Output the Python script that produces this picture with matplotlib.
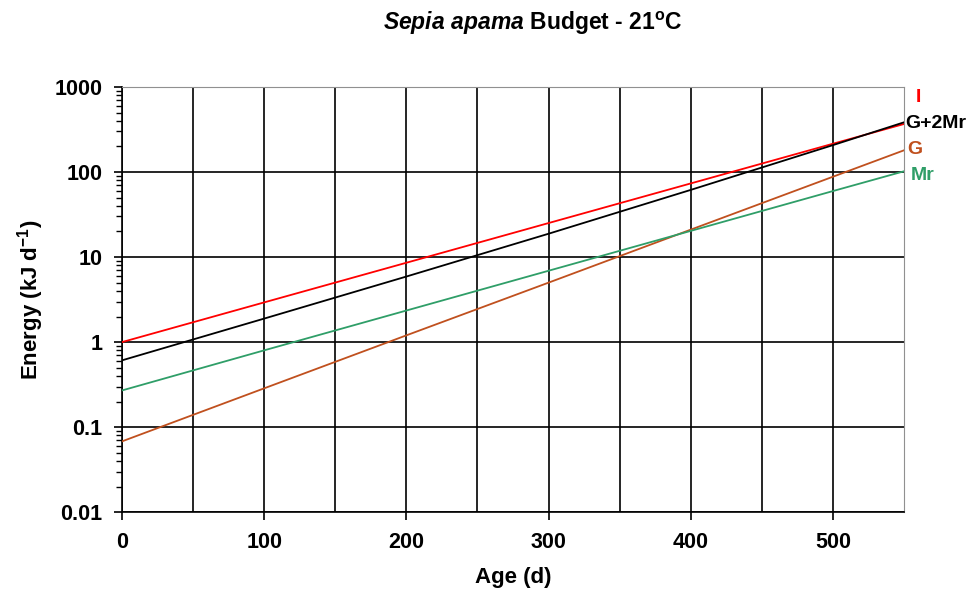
import numpy as np
import matplotlib.pyplot as plt
from matplotlib.ticker import LogLocator, FixedLocator, NullFormatter

plt.rcParams['font.family'] = ['Liberation Sans', 'DejaVu Sans']
plt.rcParams['mathtext.fontset'] = 'custom'
plt.rcParams['mathtext.it'] = 'Liberation Sans:italic:bold'
plt.rcParams['mathtext.rm'] = 'Liberation Sans:bold'
plt.rcParams['mathtext.bf'] = 'Liberation Sans:bold'

# ages (d) and energy values (kJ/d)
age = [0, 100, 200, 300, 400, 500, 550]
I = [1.0, 2.93, 8.57, 25.1, 73.4, 215, 367]
G2Mr = [0.61, 1.89, 5.9, 18.8, 61.6, 207, 384]
G = [0.068, 0.286, 1.2, 5.0, 21.0, 88, 180]
Mr = [0.27, 0.80, 2.35, 6.9, 20.3, 59.7, 102]

series = [('I', I, '#ff0000'), ('G+2Mr', G2Mr, '#000000'),
          ('G', G, '#c0501e'), ('Mr', Mr, '#2f9e68')]
label_pos = [(558, 760), (551, 377), (552, 182), (555, 90)]

fig = plt.figure(figsize=(9.78, 6.04), dpi=100)
ax = fig.add_axes([0.1247, 0.152, 0.7996, 0.704])

for (name, vals, col), (lx, ly) in zip(series, label_pos):
    ax.plot(age, vals, color=col, lw=1.3, zorder=3)
    ax.text(lx, ly, name, color=col, fontsize=14, fontweight='bold',
            va='center', ha='left', clip_on=False)

ax.set_yscale('log')
ax.set_xlim(0, 550)
ax.set_ylim(0.01, 1000)

ax.set_xticks([0, 100, 200, 300, 400, 500])
ax.xaxis.set_minor_locator(FixedLocator(np.arange(50, 550, 100)))
ax.set_yticks([0.01, 0.1, 1, 10, 100, 1000])
ax.set_yticklabels(['0.01', '0.1', '1', '10', '100', '1000'])
ax.yaxis.set_minor_locator(LogLocator(base=10, subs=np.arange(2, 10)))
ax.yaxis.set_minor_formatter(NullFormatter())

ax.grid(True, which='major', color='black', lw=1.2)
ax.grid(True, which='minor', axis='x', color='black', lw=1.2)
ax.tick_params(axis='both', which='major', direction='out', length=6,
               width=1.2, labelsize=15.5, pad=8)
ax.tick_params(axis='x', which='minor', length=0)
ax.tick_params(axis='y', which='minor', direction='out', length=4, width=1)
for lab in ax.get_xticklabels() + ax.get_yticklabels():
    lab.set_fontweight('bold')

for s in ['top', 'right']:
    ax.spines[s].set_color('#909090')
for s in ['left', 'bottom']:
    ax.spines[s].set_linewidth(1.2)

ax.set_xlabel('Age (d)', fontsize=16, fontweight='bold', labelpad=10)
ax.set_ylabel('Energy (kJ d$^{\\mathbf{-1}}$)', fontsize=16,
              fontweight='bold', labelpad=6)

fig.text(0.545, 0.962, r'$\it{Sepia\ apama}$ Budget - 21$^{\rm o}$C',
         ha='center', va='center', fontsize=16.5, fontweight='bold')

fig.savefig('out.png', dpi=100)
